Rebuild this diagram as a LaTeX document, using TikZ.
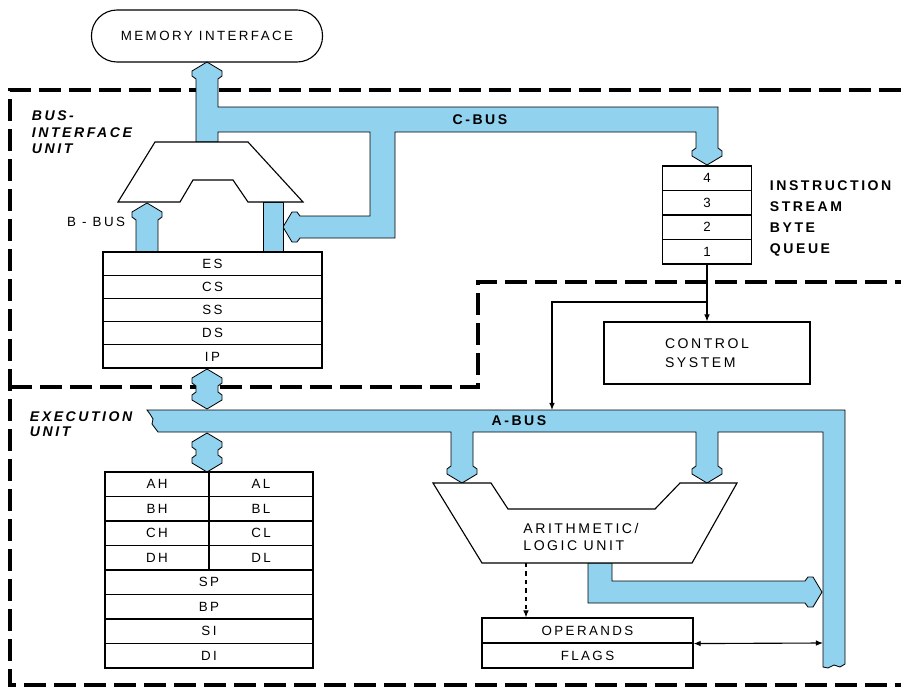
\documentclass[tikz,border=0pt]{standalone}
\usepackage{fontspec}
\setmainfont{Liberation Sans}[LetterSpace=18]
\usetikzlibrary{arrows.meta}
\definecolor{busblue}{RGB}{145,210,238}

\begin{document}
\begin{tikzpicture}[x=0.025cm,y=-0.025cm,
  every node/.style={font=\fontsize{9.5}{11}\selectfont},
  bus/.style={fill=busblue,draw=black,line width=0.6pt},
  unitbox/.style={draw,line width=0.8pt,fill=white},
  border/.style={line width=2.3pt,dash pattern=on 0.55cm off 0.2cm},
  link/.style={line width=0.8pt,-{Latex[length=5pt,width=4pt]}},
  seg/.style={draw,line width=0.8pt,inner sep=0pt,minimum width=5.475cm,minimum height=0.58cm},
  qcell/.style={draw,line width=0.8pt,inner sep=0pt,minimum width=2.225cm,minimum height=0.6125cm},
  gphalf/.style={draw,line width=0.8pt,inner sep=0pt,minimum width=2.6cm,minimum height=0.6125cm},
  gpfull/.style={draw,line width=0.8pt,inner sep=0pt,minimum width=5.2cm,minimum height=0.6125cm},
  flagcell/.style={draw,line width=0.8pt,inner sep=0pt,minimum width=5.275cm,minimum height=0.625cm},
  unitlab/.style={anchor=north west,align=left,font=\fontsize{10}{11.7}\selectfont\bfseries\itshape},
  buslab/.style={font=\fontsize{10}{12}\selectfont\bfseries},
  hup/.style={insert path={-- ++(-4,-3) -- ++(0,-5) -- ++(15,-9) -- ++(15,9) -- ++(0,5) -- ++(-4,3)}},
  hdown/.style={insert path={-- ++(4,3) -- ++(0,5) -- ++(-15,9) -- ++(-15,-9) -- ++(0,-5) -- ++(4,-3)}},
  hleft/.style={insert path={-- ++(-3,4) -- ++(-5,0) -- ++(-9,-15) -- ++(9,-15) -- ++(5,0) -- ++(3,4)}},
  hright/.style={insert path={-- ++(3,4) -- ++(5,0) -- ++(9,-15) -- ++(-9,-15) -- ++(-5,0) -- ++(-3,4)}}]
  \useasboundingbox (0,0) rectangle (901,691);

  % unit borders
  \draw[border] (901,90) -- (10,90) -- (10,685) -- (901,685);
  \draw[border] (10,387) -- (478,387) -- (478,282) -- (901,282);

  \node[draw,line width=0.8pt,rounded corners=0.64cm,minimum width=5.775cm,minimum height=1.3cm] (mem) at (207,36) {MEMORY INTERFACE};

  % C-bus and B-bus
  \filldraw[bus] (196,142) -- (196,79) [hup] -- (218,107) -- (718,107) -- (718,148) [hdown]
    -- (696,132) -- (395,132) -- (395,238) -- (300,238) [hleft] -- (370,216) -- (370,132)
    -- (218,132) -- (218,142) -- cycle;
  \node[buslab] (cbus) at (480,120) {C-BUS};
  \filldraw[bus] (136,252) -- (136,220) [hup] -- (158,252) -- cycle;
  \filldraw[bus] (263,202) rectangle (283,252);
  \node[anchor=east] (bbus) at (130,222) {B - BUS};
  \filldraw[unitbox] (118,202) -- (155,142) -- (248,142) -- (303,202) -- (248,202)
    -- (233,180) -- (193,180) -- (180,202) -- cycle;

  \foreach \lab [count=\i] in {ES,CS,SS,DS,IP}
    \node[seg] (\lab) at (212.5,{252+23.2*(\i-0.5)}) {\lab};

  \foreach \lab [count=\i] in {4,3,2,1}
    \node[qcell] (q\lab) at (707,{166+24.5*(\i-0.5)}) {\lab};
  \node[anchor=north west,align=left,font=\fontsize{10}{14.9}\selectfont\bfseries] (qlab) at (765,176) {INSTRUCTION\\STREAM\\BYTE\\QUEUE};

  \node[draw,line width=0.8pt,minimum width=5.15cm,minimum height=1.55cm,align=left,font=\fontsize{10}{13.5}\selectfont] (ctrl) at (707,353) {CONTROL\\SYSTEM};
  \coordinate (split) at (707,302);
  \coordinate (ain) at (552,410);
  \draw[link] (q1.south) -- (ctrl.north);
  \draw[link] (split) -| (ain);

  % A-bus
  \filldraw[bus] (196,392) -- (196,386) [hup] -- (218,392) [hdown] -- cycle;
  \filldraw[bus] (147,410) -- (845,410) -- (845,664) -- (840,667) -- (834,665) -- (828,668)
    -- (823,667) -- (823,432) -- (718,432) -- (718,466) [hdown] -- (696,432) -- (473,432)
    -- (473,466) [hdown] -- (451,432) -- (158,432) -- (155,428) -- (152,424) -- (153,419)
    -- (150,414) -- cycle;
  \node[buslab] (abus) at (519,421) {A-BUS};
  \filldraw[bus] (196,455) -- (196,450) [hup] -- (218,455) [hdown] -- cycle;

  \foreach \hi/\lo [count=\i] in {AH/AL,BH/BL,CH/CL,DH/DL} {
    \node[gphalf] (\hi) at (157,{472+24.5*(\i-0.5)}) {\hi};
    \node[gphalf] (\lo) at (261,{472+24.5*(\i-0.5)}) {\lo};
  }
  \foreach \lab [count=\i from 5] in {SP,BP,SI,DI}
    \node[gpfull] (\lab) at (209,{472+24.5*(\i-0.5)}) {\lab};

  % ALU
  \filldraw[bus] (588,563) -- (588,603) -- (805,603) [hright] -- (612,581) -- (612,563) -- cycle;
  \filldraw[unitbox] (433,483) -- (491,483) -- (508,509) -- (655,509) -- (680,483) -- (737,483)
    -- (692,563) -- (482,563) -- cycle;
  \node[align=left,font=\fontsize{10}{12}\selectfont] (alu) at (581,537) {ARITHMETIC/\\LOGIC UNIT};
  \coordinate (alubot) at (526,563);

  \node[flagcell] (opnd) at (587.5,630.5) {OPERANDS};
  \node[flagcell] (flags) at (587.5,655.5) {FLAGS};
  \coordinate (aside) at (823,643);
  \draw[link,dashed] (alubot) -- (alubot |- opnd.north);
  \draw[line width=0.8pt,{Latex[length=5pt,width=4pt]}-{Latex[length=5pt,width=4pt]}] (opnd.south east) -- (aside);

  \node[unitlab] (biu) at (27,106) {BUS-\\INTERFACE\\UNIT};
  \node[unitlab,font=\fontsize{10}{10.7}\selectfont\bfseries\itshape] (eu) at (25,407) {EXECUTION\\UNIT};
\end{tikzpicture}
\end{document}
